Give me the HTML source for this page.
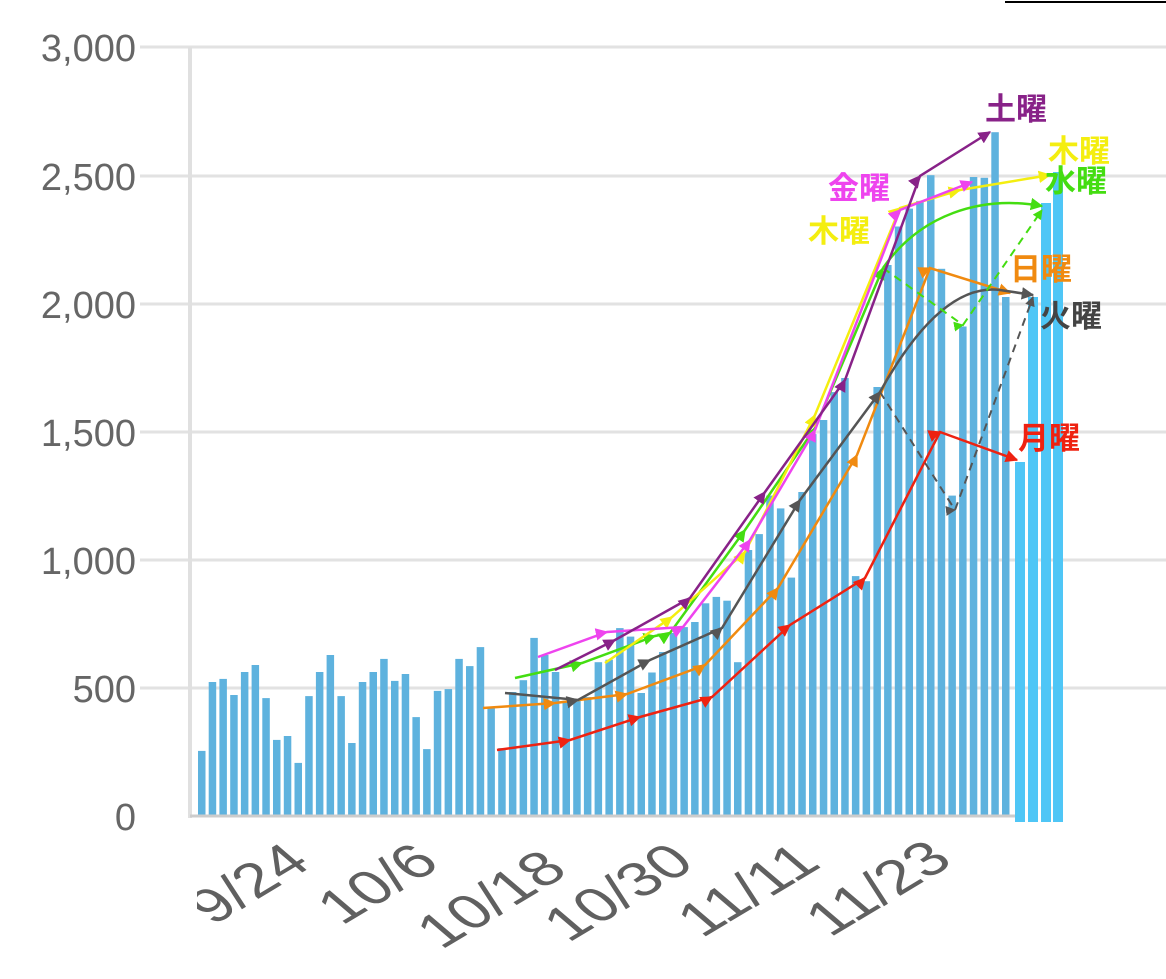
<!DOCTYPE html>
<html><head><meta charset="utf-8"><style>
html,body{margin:0;padding:0;background:#fff;}
svg{display:block;}
</style></head><body>
<svg width="1166" height="979" viewBox="0 0 1166 979" xmlns="http://www.w3.org/2000/svg" font-family="'Liberation Sans','Noto Sans CJK JP',sans-serif">
<defs>
<clipPath id="lc"><rect x="197" y="820" width="969" height="159"/></clipPath>
<marker id="mr" viewBox="0 0 10 10" refX="9" refY="5" markerWidth="5" markerHeight="5" orient="auto"><path d="M0,0L10,5L0,10z" fill="#ee2211"/></marker>
<marker id="mo" viewBox="0 0 10 10" refX="9" refY="5" markerWidth="5" markerHeight="5" orient="auto"><path d="M0,0L10,5L0,10z" fill="#f08a10"/></marker>
<marker id="mg" viewBox="0 0 10 10" refX="9" refY="5" markerWidth="5" markerHeight="5" orient="auto"><path d="M0,0L10,5L0,10z" fill="#555"/></marker>
<marker id="mw" viewBox="0 0 10 10" refX="9" refY="5" markerWidth="5" markerHeight="5" orient="auto"><path d="M0,0L10,5L0,10z" fill="#44dd11"/></marker>
<marker id="my" viewBox="0 0 10 10" refX="9" refY="5" markerWidth="5" markerHeight="5" orient="auto"><path d="M0,0L10,5L0,10z" fill="#f4ee10"/></marker>
<marker id="mm" viewBox="0 0 10 10" refX="9" refY="5" markerWidth="5" markerHeight="5" orient="auto"><path d="M0,0L10,5L0,10z" fill="#ee44ee"/></marker>
<marker id="mp" viewBox="0 0 10 10" refX="9" refY="5" markerWidth="5" markerHeight="5" orient="auto"><path d="M0,0L10,5L0,10z" fill="#882288"/></marker>
</defs>
<line x1="1005" y1="2" x2="1166" y2="2" stroke="#000" stroke-width="2"/>
<g stroke="#e2e2e2" stroke-width="3">
<line x1="140" y1="47" x2="1166" y2="47"/><line x1="140" y1="176" x2="1166" y2="176"/>
<line x1="140" y1="304" x2="1166" y2="304"/><line x1="140" y1="432" x2="1166" y2="432"/>
<line x1="140" y1="560" x2="1166" y2="560"/><line x1="140" y1="688" x2="1166" y2="688"/>
</g>
<line x1="190" y1="47" x2="190" y2="818" stroke="#e0e0e0" stroke-width="4"/>
<g fill="#666" font-size="38" text-anchor="end">
<text x="136" y="61">3,000</text><text x="136" y="190">2,500</text><text x="136" y="318">2,000</text>
<text x="136" y="446">1,500</text><text x="136" y="574">1,000</text><text x="136" y="702">500</text><text x="136" y="830">0</text>
</g>
<g fill="#5eb2de">
<rect x="198.0" y="750.9" width="7.5" height="65.1"/>
<rect x="208.7" y="682.0" width="7.5" height="134.0"/>
<rect x="219.4" y="678.9" width="7.5" height="137.1"/>
<rect x="230.2" y="695.0" width="7.5" height="121.0"/>
<rect x="240.9" y="672.0" width="7.5" height="144.0"/>
<rect x="251.6" y="665.0" width="7.5" height="151.0"/>
<rect x="262.3" y="698.1" width="7.5" height="117.9"/>
<rect x="273.0" y="739.9" width="7.5" height="76.1"/>
<rect x="283.8" y="736.0" width="7.5" height="80.0"/>
<rect x="294.5" y="762.9" width="7.5" height="53.1"/>
<rect x="305.2" y="696.1" width="7.5" height="119.9"/>
<rect x="315.9" y="672.0" width="7.5" height="144.0"/>
<rect x="326.6" y="655.0" width="7.5" height="161.0"/>
<rect x="337.4" y="696.1" width="7.5" height="119.9"/>
<rect x="348.1" y="743.0" width="7.5" height="73.0"/>
<rect x="358.8" y="682.0" width="7.5" height="134.0"/>
<rect x="369.5" y="672.0" width="7.5" height="144.0"/>
<rect x="380.2" y="658.9" width="7.5" height="157.1"/>
<rect x="391.0" y="680.9" width="7.5" height="135.1"/>
<rect x="401.7" y="674.0" width="7.5" height="142.0"/>
<rect x="412.4" y="717.1" width="7.5" height="98.9"/>
<rect x="423.1" y="749.1" width="7.5" height="66.9"/>
<rect x="433.8" y="690.9" width="7.5" height="125.1"/>
<rect x="444.6" y="689.1" width="7.5" height="126.9"/>
<rect x="455.3" y="658.9" width="7.5" height="157.1"/>
<rect x="466.0" y="666.1" width="7.5" height="149.9"/>
<rect x="476.7" y="647.1" width="7.5" height="168.9"/>
<rect x="487.4" y="708.1" width="7.5" height="107.9"/>
<rect x="498.2" y="748.1" width="7.5" height="67.9"/>
<rect x="508.9" y="692.0" width="7.5" height="124.0"/>
<rect x="519.6" y="680.2" width="7.5" height="135.8"/>
<rect x="530.3" y="637.9" width="7.5" height="178.1"/>
<rect x="541.0" y="655.0" width="7.5" height="161.0"/>
<rect x="551.8" y="672.0" width="7.5" height="144.0"/>
<rect x="562.5" y="700.7" width="7.5" height="115.3"/>
<rect x="573.2" y="700.7" width="7.5" height="115.3"/>
<rect x="583.9" y="697.1" width="7.5" height="118.9"/>
<rect x="594.6" y="662.2" width="7.5" height="153.8"/>
<rect x="605.4" y="659.7" width="7.5" height="156.3"/>
<rect x="616.1" y="628.1" width="7.5" height="187.9"/>
<rect x="626.8" y="636.6" width="7.5" height="179.4"/>
<rect x="637.5" y="693.0" width="7.5" height="123.0"/>
<rect x="648.2" y="672.5" width="7.5" height="143.5"/>
<rect x="659.0" y="652.0" width="7.5" height="164.0"/>
<rect x="669.7" y="633.0" width="7.5" height="183.0"/>
<rect x="680.4" y="627.1" width="7.5" height="188.9"/>
<rect x="691.1" y="622.0" width="7.5" height="194.0"/>
<rect x="701.8" y="603.3" width="7.5" height="212.7"/>
<rect x="712.6" y="596.9" width="7.5" height="219.1"/>
<rect x="723.3" y="600.7" width="7.5" height="215.3"/>
<rect x="734.0" y="662.2" width="7.5" height="153.8"/>
<rect x="744.7" y="550.0" width="7.5" height="266.0"/>
<rect x="755.4" y="534.1" width="7.5" height="281.9"/>
<rect x="766.2" y="495.6" width="7.5" height="320.4"/>
<rect x="776.9" y="508.4" width="7.5" height="307.6"/>
<rect x="787.6" y="577.6" width="7.5" height="238.4"/>
<rect x="798.3" y="492.0" width="7.5" height="324.0"/>
<rect x="809.0" y="434.1" width="7.5" height="381.9"/>
<rect x="819.8" y="420.0" width="7.5" height="396.0"/>
<rect x="830.5" y="392.1" width="7.5" height="423.9"/>
<rect x="841.2" y="378.0" width="7.5" height="438.0"/>
<rect x="851.9" y="576.1" width="7.5" height="239.9"/>
<rect x="862.6" y="581.2" width="7.5" height="234.8"/>
<rect x="873.4" y="387.0" width="7.5" height="429.0"/>
<rect x="884.1" y="265.0" width="7.5" height="551.0"/>
<rect x="894.8" y="226.5" width="7.5" height="589.5"/>
<rect x="905.5" y="208.6" width="7.5" height="607.4"/>
<rect x="916.2" y="200.9" width="7.5" height="615.1"/>
<rect x="927.0" y="175.2" width="7.5" height="640.8"/>
<rect x="937.7" y="268.8" width="7.5" height="547.2"/>
<rect x="948.4" y="495.6" width="7.5" height="320.4"/>
<rect x="959.1" y="326.5" width="7.5" height="489.5"/>
<rect x="969.8" y="177.0" width="7.5" height="639.0"/>
<rect x="980.6" y="177.8" width="7.5" height="638.2"/>
<rect x="991.3" y="132.2" width="7.5" height="683.8"/>
<rect x="1002.0" y="297.0" width="7.5" height="519.0"/>
</g>
<g fill="#4fc6f6">
<rect x="1015" y="462" width="10" height="360"/><rect x="1028" y="297" width="10" height="525"/>
<rect x="1041" y="203" width="10" height="619"/><rect x="1053" y="172" width="10" height="650"/>
</g>
<line x1="190" y1="816" x2="1015" y2="816" stroke="#ccc" stroke-width="3"/>
<g fill="none" stroke-width="2.5">
<polyline stroke="#ee2211" marker-mid="url(#mr)" marker-end="url(#mr)" points="497,750 570,740 640,717 712,697 790,625 865,578 940,432 1017,460"/>
<polyline stroke="#f08a10" marker-mid="url(#mo)" marker-end="url(#mo)" points="483,708 555,703 627,694 705,665 778,588 857,455 930,268 1010,293"/>
<polyline stroke="#555" marker-mid="url(#mg)" marker-end="url(#mg)" points="505,693 578,700 650,660 722,628 800,500 880,392"/>
<path stroke="#555" marker-end="url(#mg)" d="M880,392 C920,320 960,285 1000,290 L1033,295"/>
<path stroke="#555" stroke-dasharray="8,6" stroke-width="2" marker-mid="url(#mg)" marker-end="url(#mg)" d="M880,392 L955,510 L1033,297"/>
<polyline stroke="#44dd11" marker-mid="url(#mw)" marker-end="url(#mw)" points="515,678 582,663 655,636 670,633 745,530 815,428 883,268"/>
<path stroke="#44dd11" marker-end="url(#mw)" d="M883,268 C920,215 980,195 1042,206"/>
<path stroke="#44dd11" stroke-dasharray="8,6" stroke-width="2" marker-mid="url(#mw)" marker-end="url(#mw)" d="M883,268 L963,325 L1042,210"/>
<polyline stroke="#f4ee10" marker-mid="url(#my)" marker-end="url(#my)" points="605,663 672,617 745,552 815,415 900,208 960,190 1050,175"/>
<polyline stroke="#ee44ee" marker-mid="url(#mm)" marker-end="url(#mm)" points="538,657 607,632 683,627 750,540 815,430 900,210 972,182"/>
<polyline stroke="#882288" marker-mid="url(#mp)" marker-end="url(#mp)" points="555,670 615,640 690,598 765,492 845,380 920,176 990,132"/>
</g>
<g font-size="31" font-weight="bold">
<text x="985" y="120" fill="#882288">土曜</text>
<text x="1048" y="162" fill="#f4ee10">木曜</text>
<text x="1045" y="192" fill="#44dd11">水曜</text>
<text x="828" y="199" fill="#ee44ee">金曜</text>
<text x="808" y="242" fill="#f4ee10">木曜</text>
<text x="1010" y="280" fill="#f08a10">日曜</text>
<text x="1040" y="327" fill="#444">火曜</text>
<text x="1018" y="449" fill="#ee2211">月曜</text>
</g>
<g clip-path="url(#lc)" fill="#606060" font-size="48" text-anchor="end">
<text transform="translate(313,866) scale(1.4,1) rotate(-40)">9/24</text>
<text transform="translate(442,866) scale(1.4,1) rotate(-40)">10/6</text>
<text transform="translate(570,873) scale(1.4,1) rotate(-40)">10/18</text>
<text transform="translate(697,866) scale(1.4,1) rotate(-40)">10/30</text>
<text transform="translate(823,866) scale(1.4,1) rotate(-40)">11/11</text>
<text transform="translate(955,863) scale(1.4,1) rotate(-40)">11/23</text>
</g>
</svg>
</body></html>
